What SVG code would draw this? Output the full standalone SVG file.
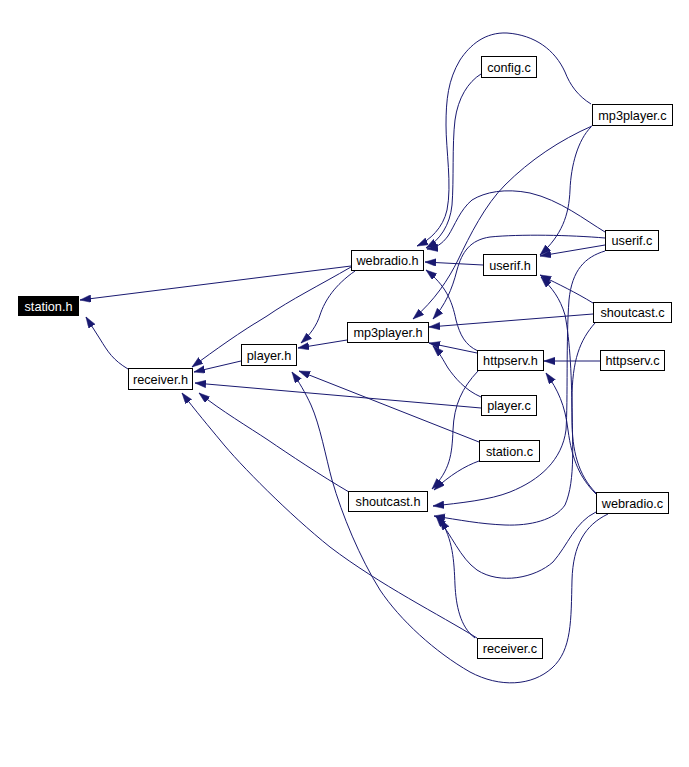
<svg xmlns="http://www.w3.org/2000/svg" width="689" height="767" viewBox="0 0 689 767">
<defs>
<marker id="arr" markerUnits="userSpaceOnUse" markerWidth="12" markerHeight="8" refX="11" refY="3.75" orient="auto">
<path d="M0,0 L11,3.75 L0,7.5 z" fill="#191970" stroke="#191970" stroke-width="0.5"/>
</marker>
<style>
.n rect{fill:#ffffff;stroke:#000000;stroke-width:1}
.n text{font-family:"Liberation Sans",Arial,Helvetica,sans-serif;font-size:12.7px;fill:#000000;text-anchor:middle}
#n_station_h rect{fill:#000000}
#n_station_h text{fill:#ffffff}
.e path{fill:none;stroke:#191970;stroke-width:1;marker-end:url(#arr)}
</style>
</defs>
<rect x="0" y="0" width="689" height="767" fill="#ffffff"/>
<g id="edges" class="e">
<path d="M351,266 L80,300"/>
<path d="M128,369 C113,360 108,352 100,339 L86,317"/>
<path d="M351,267 C320,285 290,300 267,316 C240,332 215,350 192,367"/>
<path d="M355,271 C335,285 325,300 320,315 C317,325 310,335 301,343"/>
<path d="M241,361 L194,372"/>
<path d="M347,340 L298,348"/>
<path d="M481,408 L195,383"/>
<path d="M479,442 L299,371"/>
<path d="M477,638 C440,615 380,585 330,547 C290,515 240,465 220,440 C210,428 195,410 182,393"/>
<path d="M349,492 C320,475 290,455 268,440 C250,428 220,410 199,393"/>
<path d="M608,514 C585,525 573,545 572,580 C571,620 572,650 552,668 C532,686 500,688 470,672 C435,652 400,620 380,590 C360,558 342,515 332,480 C326,458 320,425 311,405 C305,392 299,382 292,372"/>
<path d="M596,512 C575,522 568,545 553,562 C535,578 500,585 477,570 C460,558 452,535 436,516"/>
<path d="M475,638 C460,627 456,605 455,585 C454,560 453,540 440,519"/>
<path d="M479,461 C465,466 450,475 434,490"/>
<path d="M478,371 C462,388 454,405 453,430 C452,455 450,470 432,489"/>
<path d="M605,251 C585,257 572,270 569,300 C566,340 568,400 566,430 C562,460 540,480 510,492 C490,500 460,503 433,506"/>
<path d="M595,323 C580,340 572,360 572,400 C572,440 576,480 565,505 C555,520 530,526 505,525 C480,524 460,520 434,516"/>
<path d="M596,494 C580,478 572,460 568,430 C565,405 558,390 546,373"/>
<path d="M596,493 C578,475 572,450 572,420 C572,380 570,340 565,315 C560,298 552,288 541,277"/>
<path d="M593,303 C575,292 560,285 540,275"/>
<path d="M593,314 L429,327"/>
<path d="M600,361 L544,361"/>
<path d="M477,353 L429,343"/>
<path d="M481,397 C465,390 455,378 448,368 C443,360 440,353 433,346"/>
<path d="M478,351 C465,345 460,335 456,320 C452,300 445,285 426,270"/>
<path d="M483,265 L425,262"/>
<path d="M481,74 C468,82 458,98 455,120 C452,145 454,180 452,205 C450,225 440,240 426,248"/>
<path d="M591,104 C578,96 570,85 565,72 C555,50 535,35 507,33 C485,32 470,45 460,60 C448,80 446,100 446,125 C446,150 452,185 447,210 C443,228 430,240 417,246"/>
<path d="M605,232 C585,220 560,200 530,193 C505,188 485,192 472,200 C460,210 455,225 448,236 C442,244 436,248 427,249"/>
<path d="M605,238 C570,235 520,234 490,237 C470,240 462,252 457,270 C452,290 445,305 433,319"/>
<path d="M592,126 C560,140 530,160 505,185 C485,205 470,235 458,260 C448,280 435,300 413,319"/>
<path d="M591,127 C578,140 571,165 570,190 C569,215 562,235 540,255"/>
<path d="M605,245 L540,256"/>
</g>
<g id="n_station_h" class="n"><rect x="18.5" y="296.5" width="60" height="19"/><text x="48.5" y="310.5">station.h</text></g>
<g id="n_receiver_h" class="n"><rect x="128.5" y="368.5" width="64" height="21"/><text x="160.5" y="383.5">receiver.h</text></g>
<g id="n_player_h" class="n"><rect x="241.5" y="344.5" width="55" height="21"/><text x="269" y="359.5">player.h</text></g>
<g id="n_webradio_h" class="n"><rect x="351.5" y="250.5" width="72" height="20"/><text x="387.5" y="265">webradio.h</text></g>
<g id="n_mp3player_h" class="n"><rect x="347.5" y="322.5" width="81" height="20"/><text x="388" y="337">mp3player.h</text></g>
<g id="n_shoutcast_h" class="n"><rect x="348.5" y="491.5" width="79" height="20"/><text x="388" y="506">shoutcast.h</text></g>
<g id="n_userif_h" class="n"><rect x="483.5" y="254.5" width="53" height="21"/><text x="510" y="269.5">userif.h</text></g>
<g id="n_httpserv_h" class="n"><rect x="477.5" y="350.5" width="66" height="20"/><text x="510.5" y="365">httpserv.h</text></g>
<g id="n_config_c" class="n"><rect x="481.5" y="56.5" width="55" height="21"/><text x="509" y="71.5">config.c</text></g>
<g id="n_player_c" class="n"><rect x="481.5" y="395.5" width="55" height="20"/><text x="509" y="410">player.c</text></g>
<g id="n_station_c" class="n"><rect x="479.5" y="440.5" width="60" height="21"/><text x="509.5" y="455.5">station.c</text></g>
<g id="n_receiver_c" class="n"><rect x="477.5" y="638.5" width="65" height="20"/><text x="510" y="653">receiver.c</text></g>
<g id="n_mp3player_c" class="n"><rect x="592.5" y="104.5" width="80" height="21"/><text x="632.5" y="119.5">mp3player.c</text></g>
<g id="n_userif_c" class="n"><rect x="605.5" y="230.5" width="53" height="20"/><text x="632" y="245">userif.c</text></g>
<g id="n_shoutcast_c" class="n"><rect x="593.5" y="302.5" width="78" height="20"/><text x="632.5" y="317">shoutcast.c</text></g>
<g id="n_httpserv_c" class="n"><rect x="600.5" y="350.5" width="64" height="20"/><text x="632.5" y="365">httpserv.c</text></g>
<g id="n_webradio_c" class="n"><rect x="596.5" y="492.5" width="72" height="21"/><text x="632.5" y="507.5">webradio.c</text></g>
</svg>
